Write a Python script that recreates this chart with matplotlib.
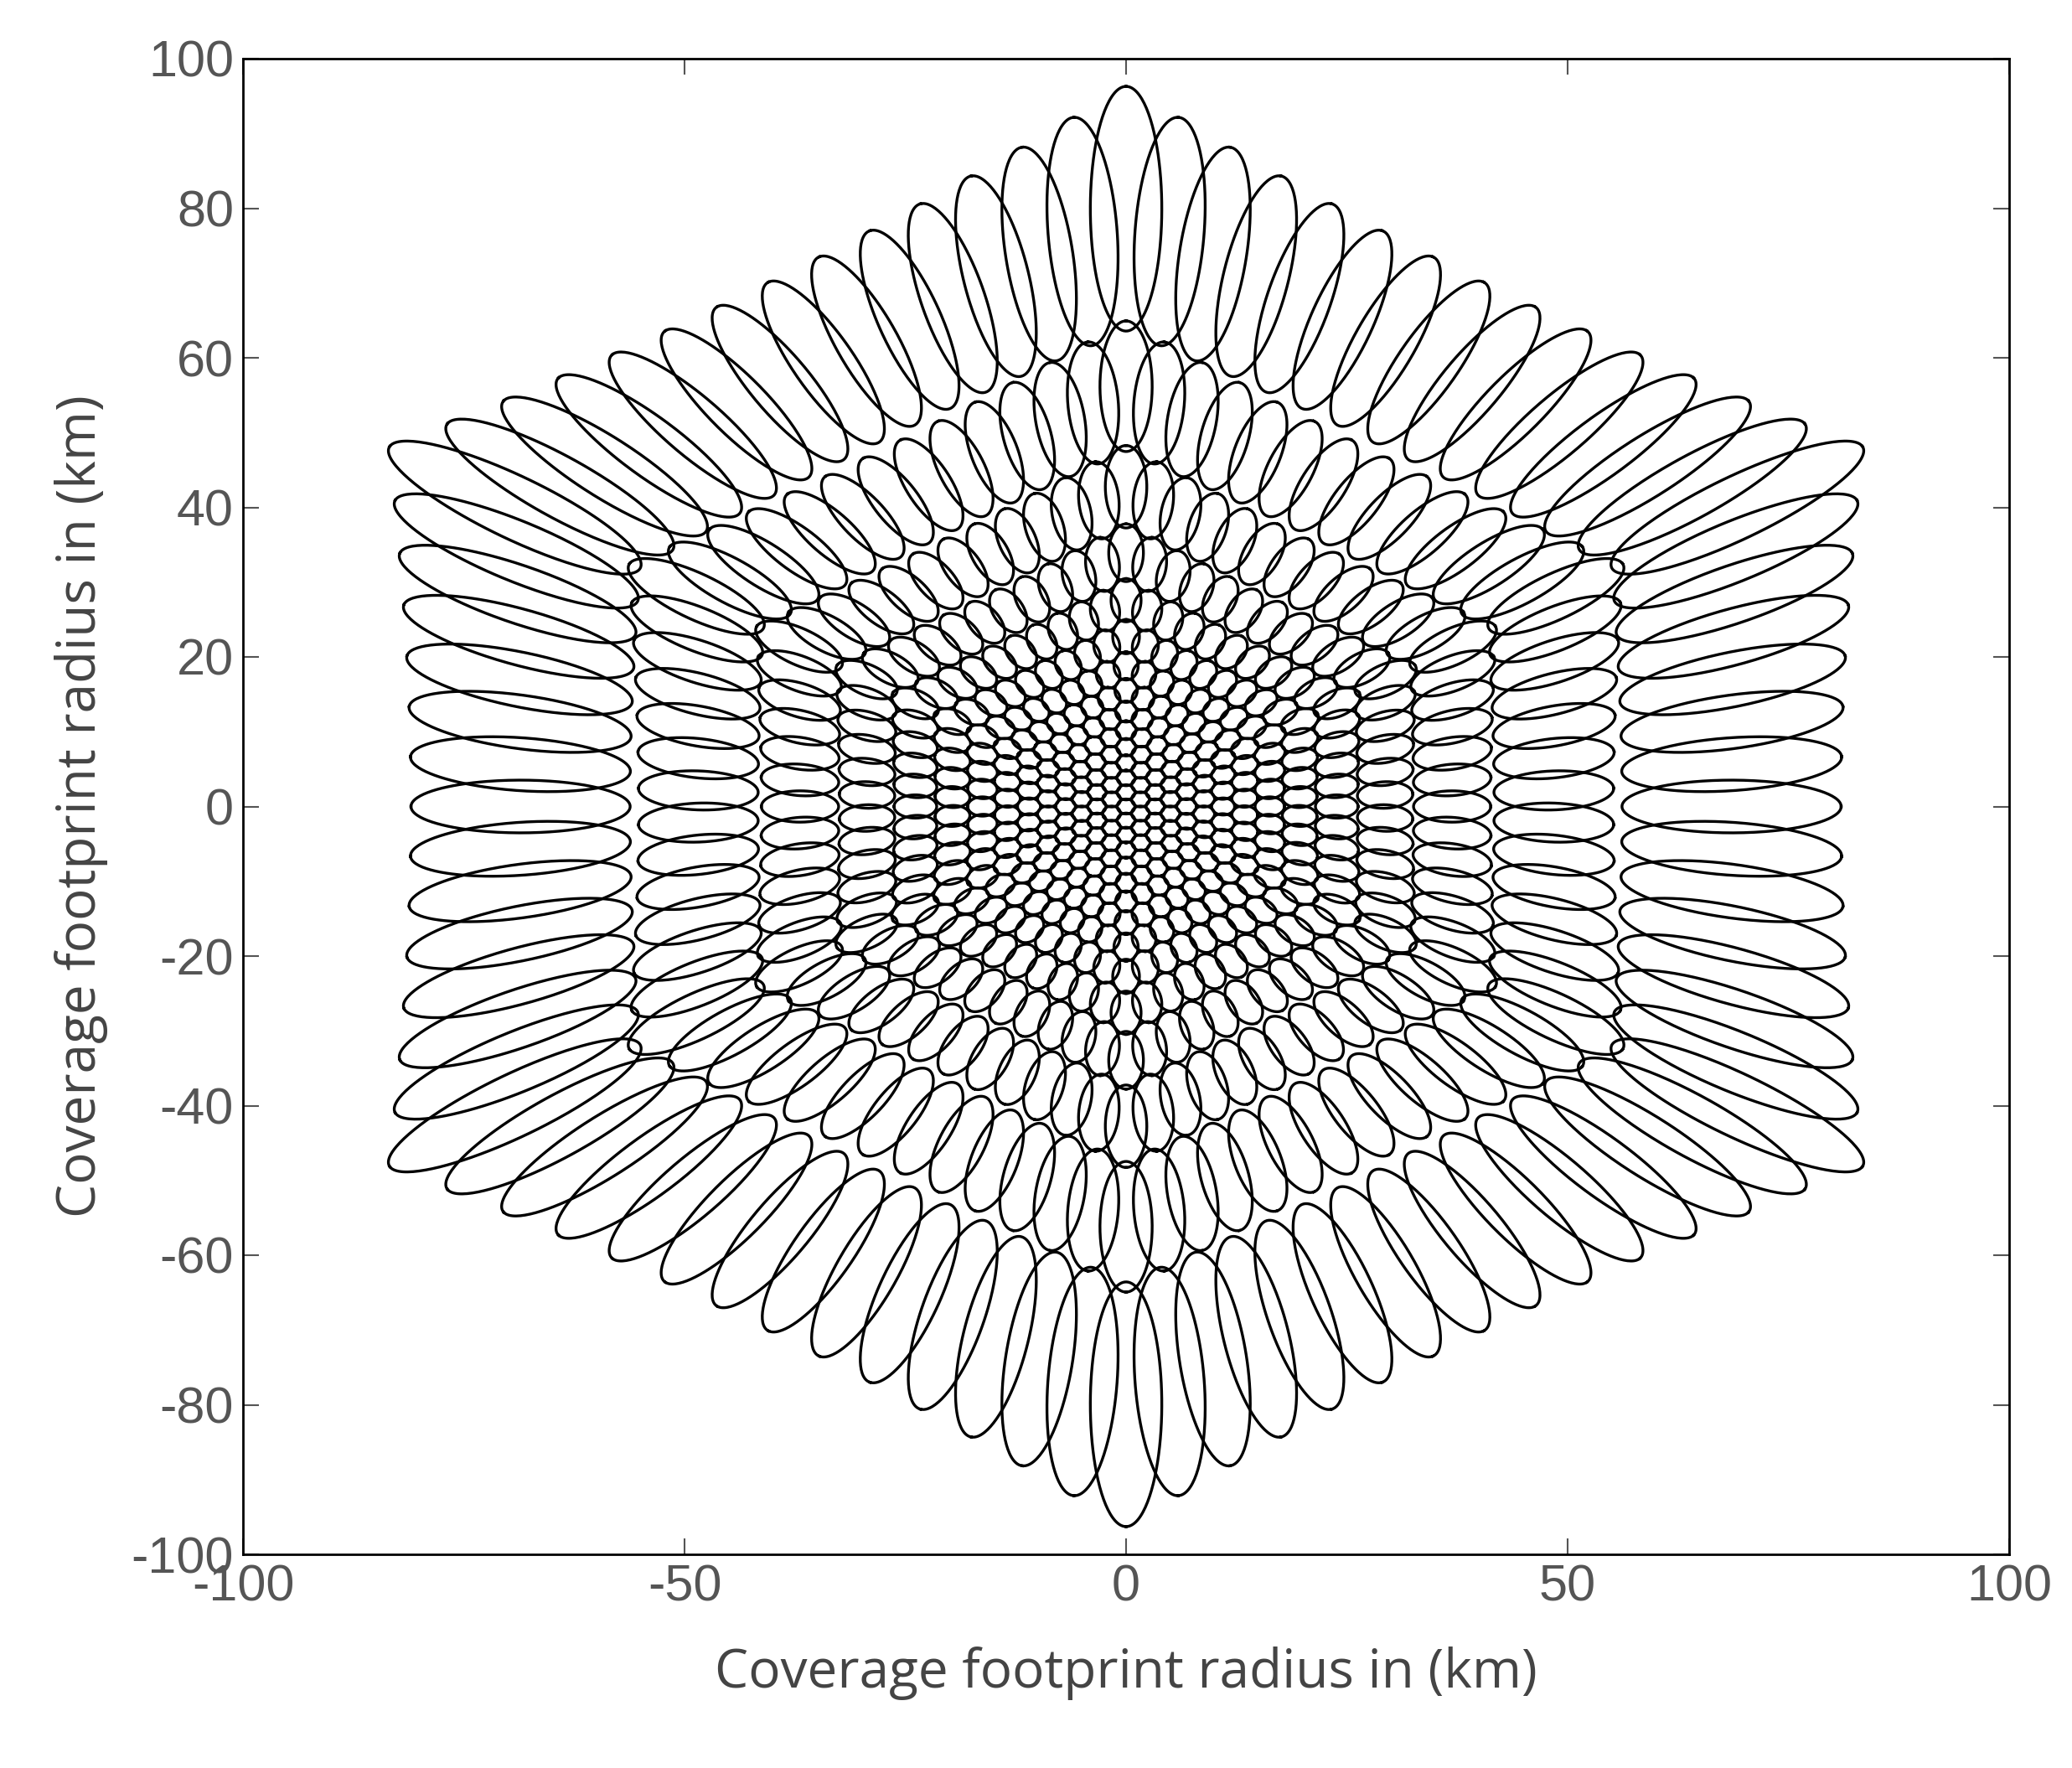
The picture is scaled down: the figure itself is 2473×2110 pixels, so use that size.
import numpy as np
import matplotlib
matplotlib.use("Agg")
import matplotlib.pyplot as plt
plt.rcParams['axes.unicode_minus'] = False

# Beam layout parameters (HAP multibeam footprint)
altitude_km = 20.0
n_rings = [k for k in range(0, 15)]
ring_step_rad = 0.094
beam_halfwidth_rad = 0.05
xticks = [-100, -50, 0, 50, 100]
yticks = [-100, -80, -60, -40, -20, 0, 20, 40, 60, 80, 100]
xlabel = "Coverage footprint radius in (km)"
ylabel = "Coverage footprint radius in (km)"

def hex_ring(k):
    if k == 0:
        return [(0.0, 0.0)]
    corners = [(np.cos(np.radians(90 + 60 * j)), np.sin(np.radians(90 + 60 * j))) for j in range(7)]
    pts = []
    for j in range(6):
        c0, c1 = np.array(corners[j]), np.array(corners[j + 1])
        for i in range(k):
            pts.append(tuple(c0 + (c1 - c0) * i / k))
    return pts

fig = plt.figure(figsize=(24.73, 21.10), dpi=100)
ax = fig.add_axes([290 / 2473, 1 - 1855 / 2110, (2398 - 290) / 2473, (1855 - 70) / 2110])

t = np.linspace(0, 2 * np.pi, 200)
for k in n_rings:
    R = altitude_km * np.tan(k * ring_step_rad)
    for (ux, uy) in hex_ring(k):
        gx, gy = ux * R, uy * R
        r = np.hypot(gx, gy)
        th = np.arctan2(r, altitude_km)
        ph = np.arctan2(gy, gx)
        a = np.array([np.sin(th) * np.cos(ph), np.sin(th) * np.sin(ph), -np.cos(th)])
        e1 = np.array([np.cos(th) * np.cos(ph), np.cos(th) * np.sin(ph), np.sin(th)])
        e2 = np.array([-np.sin(ph), np.cos(ph), 0.0])
        w = beam_halfwidth_rad
        rays = (a[:, None] * np.cos(w) + np.sin(w) * (np.cos(t)[None, :] * e1[:, None] + np.sin(t)[None, :] * e2[:, None]))
        s = altitude_km / -rays[2]
        ax.plot(rays[0] * s, rays[1] * s, color="black", lw=2.4)

ax.set_xlim(-100, 100)
ax.set_ylim(-100, 100)
ax.set_xticks(xticks)
ax.set_yticks(yticks)
ax.tick_params(direction="in", length=14, width=1.5, top=True, right=True,
               labelsize=44, labelcolor="#555555", color="#555555", pad=8)
for lab in ax.get_xticklabels() + ax.get_yticklabels():
    lab.set_family("Liberation Sans")
for sp in ax.spines.values():
    sp.set_linewidth(2)
ax.set_xlabel(xlabel, fontsize=46, color="#444444", family="Open Sans", labelpad=30)
ax.set_ylabel(ylabel, fontsize=46, color="#444444", family="Open Sans", labelpad=20)
fig.savefig("out.png", dpi=100, facecolor="white")
